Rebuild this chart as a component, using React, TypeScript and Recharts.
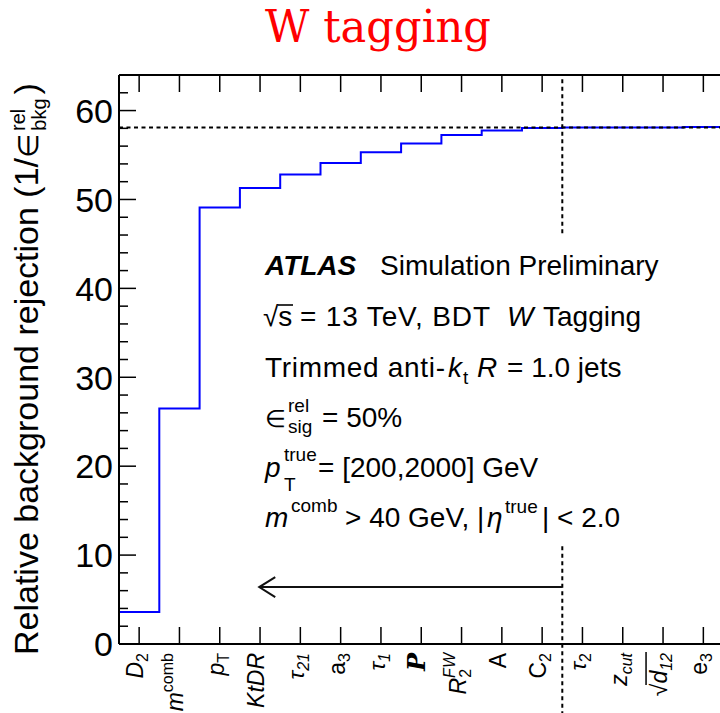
import React from "react";
import { ComposedChart, Line, XAxis, YAxis, ReferenceLine } from "recharts";

// one bin per variable, in the order they were added to the BDT
const categories = ["D2", "mcomb", "pT", "KtDR", "tau21", "a3", "tau1", "P", "R2FW", "A", "C2", "tau2", "zcut", "sqrtd12", "e3"];
const rejection = [3.6, 26.5, 49.1, 51.3, 52.8, 54.1, 55.3, 56.3, 57.25, 57.75, 58.05, 58.1, 58.1, 58.1, 58.15];
const yTicks = [0, 2, 4, 6, 8, 10, 12, 14, 16, 18, 20, 22, 24, 26, 28, 30, 32, 34, 36, 38, 40, 42, 44, 46, 48, 50, 52, 54, 56, 58, 60, 62, 64];
const xTicks = categories.map((_, i) => i + 0.5);

const plateau = 58.1;
const cutIndex = 11;
const cutGapLow = 11.1;
const cutGapHigh = 46.2;
const arrowY = 6.4;
const arrowTipX = 3.48;

const rows = rejection
	.map((v, i) => ({ x: i, v }))
	.concat([{ x: categories.length, v: rejection[rejection.length - 1] }]);

const SANS = "'Liberation Sans', Arial, Helvetica, sans-serif";
const SERIF = "'DejaVu Serif', 'Liberation Serif', serif";
const SUB = 16;

function xLabel(key: string) {
	switch (key) {
		case "D2":
			return (<><tspan fontStyle="italic">D</tspan><tspan fontSize={SUB} dy={5}>2</tspan></>);
		case "mcomb":
			return (<><tspan fontStyle="italic">m</tspan><tspan fontSize={SUB} dy={-10}>comb</tspan></>);
		case "pT":
			return (<><tspan fontStyle="italic">p</tspan><tspan fontSize={SUB} dy={5}>T</tspan></>);
		case "KtDR":
			return <tspan fontStyle="italic">KtDR</tspan>;
		case "tau21":
			return (<><tspan fontStyle="italic">τ</tspan><tspan fontSize={SUB} fontStyle="italic" dy={5}>21</tspan></>);
		case "a3":
			return (<><tspan>a</tspan><tspan fontSize={SUB} dy={5}>3</tspan></>);
		case "tau1":
			return (<><tspan fontStyle="italic">τ</tspan><tspan fontSize={SUB} fontStyle="italic" dy={5}>1</tspan></>);
		case "P":
			return <tspan fontFamily={SERIF} fontWeight="bold" fontStyle="italic" fontSize={24}>P</tspan>;
		case "R2FW":
			return (
				<>
					<tspan fontStyle="italic">R</tspan>
					<tspan fontSize={SUB} dy={5}>2</tspan>
					<tspan fontSize={SUB} fontStyle="italic" dx={-9} dy={-16}>FW</tspan>
				</>
			);
		case "A":
			return <tspan>A</tspan>;
		case "C2":
			return (<><tspan>C</tspan><tspan fontSize={SUB} dy={5}>2</tspan></>);
		case "tau2":
			return (<><tspan fontStyle="italic">τ</tspan><tspan fontSize={SUB} dy={5}>2</tspan></>);
		case "zcut":
			return (<><tspan fontStyle="italic">z</tspan><tspan fontSize={SUB} fontStyle="italic" dy={5}>cut</tspan></>);
		case "sqrtd12":
			return (<><tspan>√</tspan><tspan fontStyle="italic">d</tspan><tspan fontSize={SUB} fontStyle="italic" dy={5}>12</tspan></>);
		case "e3":
			return (<><tspan>e</tspan><tspan fontSize={SUB} dy={5}>3</tspan></>);
		default:
			return key;
	}
}

function BottomTick(props: any) {
	const { x, y, payload } = props;
	const key = categories[Math.round(payload.value - 0.5)];
	return (
		<g>
			<line x1={x} x2={x} y1={y} y2={y - 17} stroke="#000" strokeWidth={1.5} />
			<g transform={`translate(${x + 4},${y + 9}) rotate(-90)`}>
				<text textAnchor="end" fontFamily={SANS} fontSize={23} fill="#000" style={{ whiteSpace: "pre" }}>
					{xLabel(key)}
				</text>
				{key === "sqrtd12" && <line x1={-32} x2={1} y1={-21} y2={-21} stroke="#000" strokeWidth={1.5} />}
			</g>
		</g>
	);
}

function TopTick(props: any) {
	const { x, y } = props;
	return <line x1={x} x2={x} y1={y} y2={y + 17} stroke="#000" strokeWidth={1.5} />;
}

function LeftTick(props: any) {
	const { x, y, payload } = props;
	const major = payload.value % 10 === 0;
	return (
		<g>
			<line x1={x} x2={x + (major ? 17 : 9)} y1={y} y2={y} stroke="#000" strokeWidth={1.5} />
			{major && (
				<text x={x - 6} y={y} dy="0.36em" textAnchor="end" fontFamily={SANS} fontSize={34} fill="#000">
					{payload.value}
				</text>
			)}
		</g>
	);
}

function RightTick(props: any) {
	const { x, y, payload } = props;
	const major = payload.value % 10 === 0;
	return <line x1={x} x2={x - (major ? 17 : 9)} y1={y} y2={y} stroke="#000" strokeWidth={1.5} />;
}

function Arrow(props: any) {
	const { x1, y1, x2, y2 } = props;
	const tipX = Math.min(x1, x2);
	const endX = Math.max(x1, x2);
	const yy = (y1 + y2) / 2;
	return (
		<g stroke="#111" strokeWidth={2} fill="none">
			<line x1={tipX} x2={endX} y1={yy} y2={yy} />
			<polyline points={`${tipX + 16},${yy - 10} ${tipX},${yy} ${tipX + 16},${yy + 10}`} />
		</g>
	);
}

function Overlay() {
	const t = { fontFamily: SANS, fill: "#000", style: { whiteSpace: "pre" as const } };
	return (
		<svg width={720} height={713} style={{ position: "absolute", left: 0, top: 0, pointerEvents: "none" }}>
			<text
				x={378}
				y={42}
				textAnchor="middle"
				fontFamily={SERIF}
				fontSize={44}
				textLength={226}
				lengthAdjust="spacingAndGlyphs"
				fill="#ff0000"
			>
				W tagging
			</text>

			<g transform="translate(38,0) rotate(-90)">
				<text x={-655} y={0} fontSize={34} {...t}>
					Relative background rejection (1/<tspan fontSize={28}>∈</tspan>
					<tspan fontSize={20} dx={3} dy={-13}>rel</tspan>
					<tspan fontSize={20} dx={-22} dy={21}>bkg</tspan>
					<tspan fontSize={34} dx={4} dy={-8}>)</tspan>
				</text>
			</g>

			<g fontSize={28}>
				<text x={265} y={275} {...t} fontWeight="bold" fontStyle="italic">ATLAS</text>
				<text x={380} y={275} {...t}>Simulation Preliminary</text>

				<text x={263} y={326} {...t}>√s</text>
				<line x1={278} x2={293} y1={305} y2={305} stroke="#000" strokeWidth={1.6} />
				<text x={300} y={326} {...t} textLength={190} lengthAdjust="spacing">= 13 TeV, BDT</text>
				<text x={507} y={326} {...t} fontStyle="italic">W</text>
				<text x={543} y={326} {...t}>Tagging</text>

				<text x={265} y={377} {...t} textLength={180} lengthAdjust="spacing">Trimmed anti-</text>
				<text x={448} y={377} {...t} fontStyle="italic">k</text>
				<text x={463} y={384} fontSize={19} {...t}>t</text>
				<text x={477} y={377} {...t} fontStyle="italic">R</text>
				<text x={507} y={377} {...t}>= 1.0 jets</text>

				<text x={265} y={427} fontSize={24} {...t}>∈</text>
				<text x={288} y={412} fontSize={19} {...t}>rel</text>
				<text x={288} y={433} fontSize={19} {...t}>sig</text>
				<text x={322} y={427} {...t}>= 50%</text>

				<text x={265} y={477} {...t} fontStyle="italic">p</text>
				<text x={284} y={461} fontSize={19} {...t}>true</text>
				<text x={284} y={491} fontSize={19} {...t}>T</text>
				<text x={318} y={477} {...t}>= [200,2000] GeV</text>

				<text x={265} y={527} {...t} fontStyle="italic">m</text>
				<text x={291} y={512} fontSize={19} {...t}>comb</text>
				<text x={345} y={527} {...t}>&gt; 40 GeV, |</text>
				<text x={487} y={527} {...t} fontStyle="italic">η</text>
				<text x={505} y={513} fontSize={19} {...t}>true</text>
				<text x={542} y={527} {...t}>| &lt; 2.0</text>
			</g>
		</svg>
	);
}

export default function App() {
	return (
		<div style={{ position: "absolute", left: 0, top: 0, width: 720, height: 713, overflow: "hidden", background: "#fff" }}>
			<ComposedChart width={744} height={713} data={rows} margin={{ top: 74, right: 19.5, bottom: 68, left: 0 }}>
				<XAxis
					dataKey="x"
					type="number"
					domain={[0, categories.length]}
					ticks={xTicks}
					interval={0}
					height={1}
					tickSize={0}
					tickMargin={0}
					tick={BottomTick}
					axisLine={{ stroke: "#000", strokeWidth: 2 }}
				/>
				<XAxis
					xAxisId="top"
					orientation="top"
					dataKey="x"
					type="number"
					domain={[0, categories.length]}
					ticks={xTicks}
					interval={0}
					height={1}
					tickSize={0}
					tickMargin={0}
					tick={TopTick}
					axisLine={{ stroke: "#000", strokeWidth: 2 }}
				/>
				<YAxis
					type="number"
					domain={[0, 64]}
					ticks={yTicks}
					interval={0}
					width={119}
					tickSize={0}
					tickMargin={0}
					tick={LeftTick}
					axisLine={{ stroke: "#000", strokeWidth: 2 }}
				/>
				<YAxis
					yAxisId="r"
					orientation="right"
					type="number"
					domain={[0, 64]}
					ticks={yTicks}
					interval={0}
					width={1}
					tickSize={0}
					tickMargin={0}
					tick={RightTick}
					axisLine={{ stroke: "#000", strokeWidth: 2 }}
				/>
				<Line
					type="stepAfter"
					dataKey="v"
					stroke="#0000ff"
					strokeWidth={2}
					dot={false}
					activeDot={false}
					isAnimationActive={false}
				/>
				<ReferenceLine y={plateau} stroke="#000" strokeWidth={2} strokeDasharray="4 3.5" />
				<ReferenceLine
					segment={[{ x: cutIndex, y: cutGapHigh }, { x: cutIndex, y: 64 }]}
					stroke="#000"
					strokeWidth={2}
					strokeDasharray="4 3.5"
				/>
				<ReferenceLine
					segment={[{ x: cutIndex, y: -8 }, { x: cutIndex, y: cutGapLow }]}
					stroke="#000"
					strokeWidth={2}
					strokeDasharray="4 3.5"
					ifOverflow="visible"
				/>
				<ReferenceLine
					segment={[{ x: cutIndex, y: arrowY }, { x: arrowTipX, y: arrowY }]}
					shape={Arrow}
					ifOverflow="visible"
				/>
			</ComposedChart>
			<Overlay />
		</div>
	);
}
